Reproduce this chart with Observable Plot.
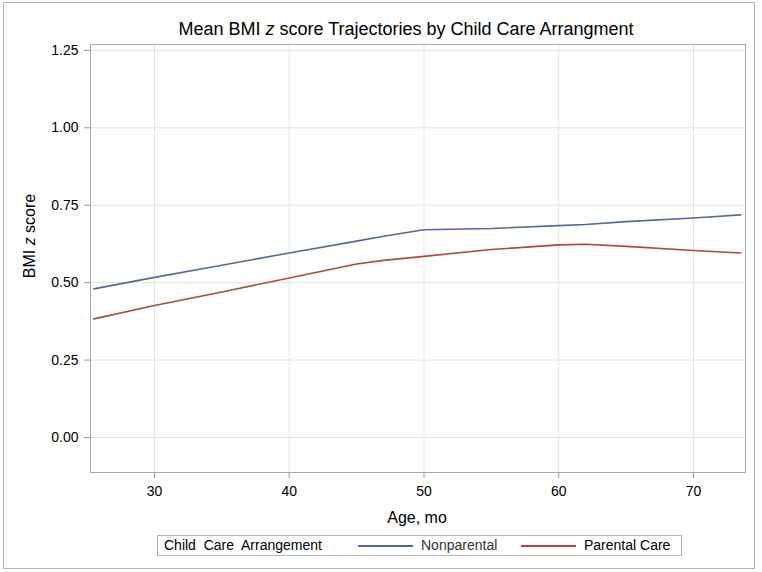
<!DOCTYPE html>
<html>
<head>
<meta charset="utf-8">
<script src="https://cdn.jsdelivr.net/npm/d3@7"></script>
<script src="https://cdn.jsdelivr.net/npm/@observablehq/plot@0.6"></script>
<style>
  html, body { margin: 0; padding: 0; background: #fff; }
  #wrap { position: relative; width: 762px; height: 572px; font-family: "Liberation Sans", Arial, sans-serif; }
  #border { position: absolute; left: 3px; top: 2px; width: 752px; height: 567px; border: 1px solid #b4b4b4; box-sizing: border-box; pointer-events: none; }
  .txt { position: absolute; white-space: pre; color: #000; }
  #title { left: 0; width: 812px; top: 19px; text-align: center; font-size: 18px; }
  #ylab { left: 30px; top: 236px; font-size: 16px; transform: translate(-50%, -50%) rotate(-90deg); }
  #xlab { left: 417px; top: 509px; transform: translateX(-50%); font-size: 16px; }
  #legend { position: absolute; left: 157px; top: 535px; width: 525px; height: 21px; border: 1px solid #b4b4b4; box-sizing: border-box; font-size: 14px; }
  #legend .txt { top: 1px; }
  .sw { position: absolute; top: 9px; height: 2px; }
</style>
</head>
<body>
<div id="wrap">
  <div id="chart"></div>
  <div id="border"></div>
  <div class="txt" id="title">Mean BMI <i>z</i> score Trajectories by Child Care Arrangment</div>
  <div class="txt" id="ylab">BMI <i>z</i> score</div>
  <div class="txt" id="xlab">Age, mo</div>
  <div id="legend"></div>
</div>
<script>
// ---- data ----
const ages = [25.5, 30, 35, 40, 45, 47, 50, 55, 60, 62, 65, 70, 73.5];
const nonparental = [0.480, 0.517, 0.556, 0.596, 0.634, 0.650, 0.671, 0.675, 0.684, 0.688, 0.697, 0.709, 0.719];
const parentalCare = [0.383, 0.426, 0.470, 0.515, 0.560, 0.572, 0.585, 0.607, 0.622, 0.624, 0.617, 0.604, 0.596];
const seriesNames = ["Nonparental", "Parental Care"];
const seriesColors = ["#5566a3", "#b0483e"];
const xTicks = [30, 40, 50, 60, 70];
const yTicks = [0, 0.25, 0.5, 0.75, 1.0, 1.25];
const legendTitle = "Child  Care  Arrangement";

const rows = [];
ages.forEach((a, i) => {
  rows.push({age: a, bmi: nonparental[i], group: seriesNames[0]});
  rows.push({age: a, bmi: parentalCare[i], group: seriesNames[1]});
});

const chart = Plot.plot({
  width: 762,
  height: 572,
  marginLeft: 90,
  marginRight: 17,
  marginTop: 44,
  marginBottom: 100,
  style: {fontFamily: "Liberation Sans, Arial, sans-serif", fontSize: "14px", color: "#000", background: "transparent"},
  x: {domain: [25.25, 73.86]},
  y: {domain: [-0.113, 1.269]},
  color: {domain: seriesNames, range: seriesColors},
  marks: [
    Plot.gridX(xTicks, {stroke: "#e3e3e3", strokeOpacity: 1}),
    Plot.gridY(yTicks, {stroke: "#e3e3e3", strokeOpacity: 1}),
    Plot.axisX(xTicks, {tickSize: 6, tickPadding: 8, label: null, stroke: "#9a9a9a", fontSize: 14, fill: "#000"}),
    Plot.axisY(yTicks, {tickSize: 6, tickPadding: 6, label: null, tickFormat: d3.format(".2f"), stroke: "#9a9a9a", fontSize: 14, fill: "#000"}),
    Plot.line(rows, {x: "age", y: "bmi", z: "group", stroke: "group", strokeWidth: 1.6}),
    Plot.frame({stroke: "#a8a8a8"})
  ]
});
document.getElementById("chart").appendChild(chart);

// legend
const leg = document.getElementById("legend");
function add(html, cls, left, extra) {
  const d = document.createElement("div");
  d.className = cls;
  d.style.left = left + "px";
  if (extra) Object.assign(d.style, extra);
  d.innerHTML = html;
  leg.appendChild(d);
  return d;
}
add(legendTitle, "txt", 6);
add("", "sw", 200, {width: "55px", background: seriesColors[0]});
add(seriesNames[0], "txt", 263, {color: "#333"});
add("", "sw", 363, {width: "55px", background: seriesColors[1]});
add(seriesNames[1], "txt", 426);
</script>
</body>
</html>
